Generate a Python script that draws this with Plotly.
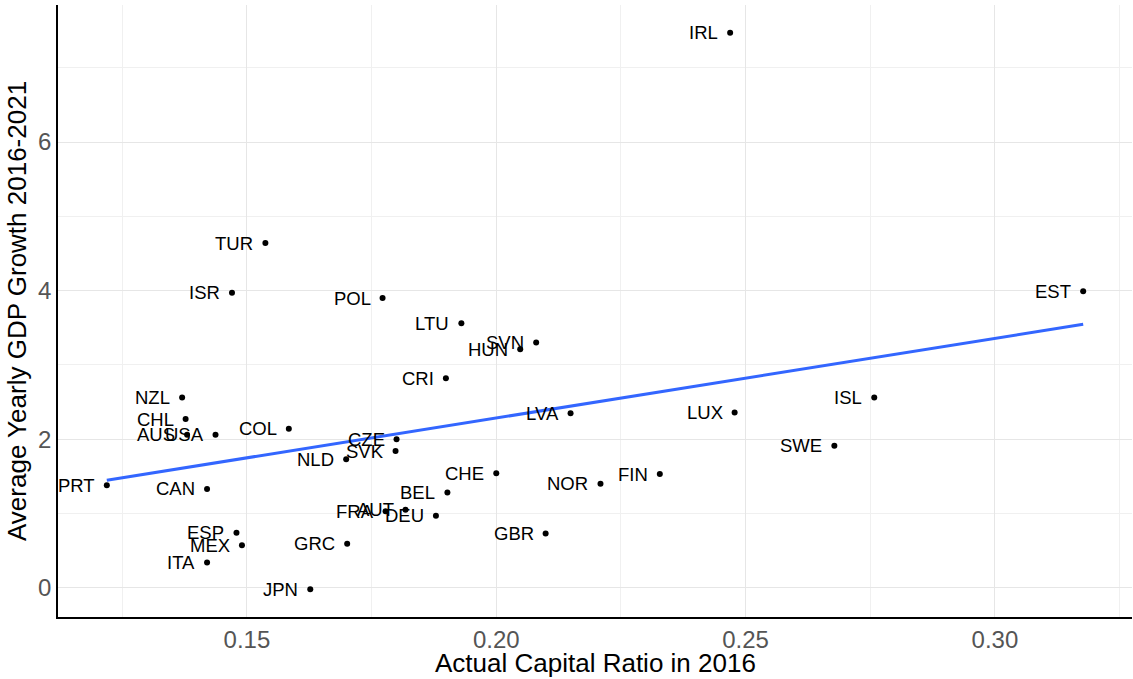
import numpy as np
import plotly.graph_objects as go

countries = ["TUR", "ISR", "POL", "NZL", "CHL", "AUS", "USA", "COL", "PRT", "CAN",
             "ESP", "MEX", "ITA", "JPN", "GRC", "NLD", "FRA", "AUT", "DEU", "LTU",
             "SVN", "HUN", "CRI", "LVA", "CZE", "SVK", "CHE", "BEL", "NOR", "FIN",
             "GBR", "LUX", "ISL", "SWE", "IRL", "EST"]
capital_ratio = [0.1537, 0.1470, 0.1772, 0.1370, 0.1377, 0.1380, 0.1437, 0.1584, 0.1219, 0.1420,
                 0.1479, 0.1490, 0.1420, 0.1627, 0.1701, 0.1699, 0.1778, 0.1818, 0.1879, 0.1930,
                 0.2080, 0.2048, 0.1899, 0.2149, 0.1800, 0.1798, 0.2000, 0.1902, 0.2209, 0.2328,
                 0.2099, 0.2478, 0.2758, 0.2678, 0.2469, 0.3177]
gdp_growth = [4.64, 3.97, 3.90, 2.56, 2.27, 2.06, 2.06, 2.14, 1.38, 1.33,
              0.74, 0.57, 0.34, -0.02, 0.59, 1.73, 1.03, 1.05, 0.97, 3.56,
              3.30, 3.21, 2.82, 2.35, 2.00, 1.84, 1.54, 1.28, 1.40, 1.53,
              0.73, 2.36, 2.56, 1.91, 7.47, 3.99]
x_ticks = [0.15, 0.20, 0.25, 0.30]
y_ticks = [0, 2, 4, 6]

x_title = "Actual Capital Ratio in 2016"
y_title = "Average Yearly GDP Growth 2016-2021"

FONT = "Liberation Sans, Arial, sans-serif"

xs = np.array(capital_ratio)
ys = np.array(gdp_growth)
slope, intercept = np.polyfit(xs, ys, 1)
fit_x = np.array([xs.min(), xs.max()])
fit_y = slope * fit_x + intercept

# ggplot-like 5% expansion
xr = xs.max() - xs.min()
yr = ys.max() - ys.min()
x_range = [xs.min() - 0.05 * xr, xs.max() + 0.05 * xr]
y_range = [ys.min() - 0.05 * yr, ys.max() + 0.05 * yr]

fig = go.Figure()
fig.add_trace(go.Scatter(x=xs, y=ys, mode="markers",
                         marker=dict(color="black", size=6),
                         showlegend=False, hoverinfo="skip"))
fig.add_trace(go.Scatter(x=fit_x, y=fit_y, mode="lines",
                         line=dict(color="#3366FF", width=3),
                         showlegend=False, hoverinfo="skip"))

annotations = []
for c, x, y in zip(countries, capital_ratio, gdp_growth):
    annotations.append(dict(x=x, y=y, xref="x", yref="y", text=c, showarrow=False,
                            xanchor="right", yanchor="middle", xshift=-10,
                            font=dict(family=FONT, size=18.5, color="black")))
annotations.append(dict(x=0.5, y=0, xref="paper", yref="paper", text=x_title,
                        showarrow=False, xanchor="center", yanchor="middle", yshift=-46,
                        font=dict(family=FONT, size=26, color="black")))
annotations.append(dict(x=0, y=0.5, xref="paper", yref="paper", text=y_title,
                        showarrow=False, xanchor="center", yanchor="middle", xshift=-41,
                        textangle=-90,
                        font=dict(family=FONT, size=26, color="black")))

fig.update_layout(
    width=1133, height=679,
    margin=dict(l=58, r=1, t=5, b=62),
    paper_bgcolor="white", plot_bgcolor="white",
    font=dict(family=FONT),
    annotations=annotations,
    xaxis=dict(range=x_range, tickvals=x_ticks, tickformat=".2f",
               showgrid=True, gridcolor="#E6E6E6", gridwidth=1.2,
               minor=dict(dtick=0.025, tick0=0, showgrid=True, gridcolor="#F0F0F0", gridwidth=0.8),
               showline=True, linecolor="black", linewidth=1.6,
               zeroline=False, ticks="",
               tickfont=dict(family=FONT, size=24, color="#555555")),
    yaxis=dict(range=y_range, tickvals=y_ticks,
               showgrid=True, gridcolor="#E6E6E6", gridwidth=1.2,
               minor=dict(dtick=1, tick0=0, showgrid=True, gridcolor="#F0F0F0", gridwidth=0.8),
               showline=True, linecolor="black", linewidth=1.6,
               zeroline=False, ticks="",
               tickfont=dict(family=FONT, size=24, color="#555555")),
)

fig.write_html("out.html",
               config={"displayModeBar": False},
               post_script="document.body.style.margin='0';document.body.style.overflow='hidden';")
